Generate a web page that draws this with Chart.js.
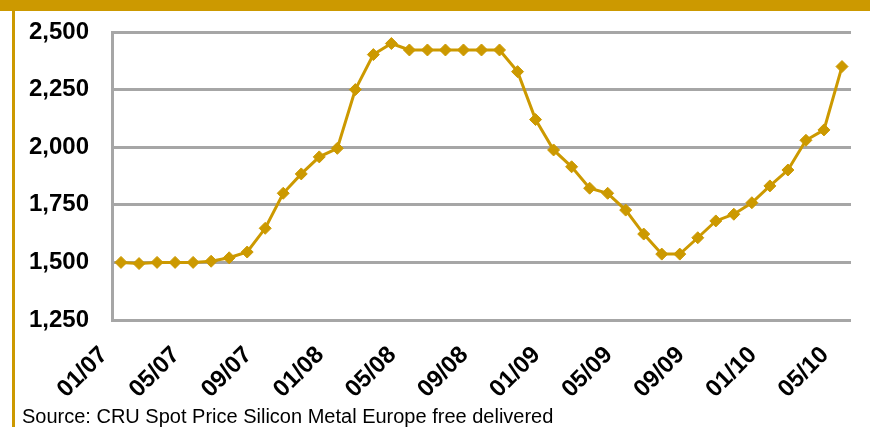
<!DOCTYPE html>
<html>
<head>
<meta charset="utf-8">
<script src="https://cdn.jsdelivr.net/npm/chart.js@4"></script>
<style>
  html, body { margin: 0; padding: 0; background: #fff; }
  #marco { position: relative; width: 870px; height: 427px; overflow: hidden; background: #fff; }
  #franja { position: absolute; left: 0; top: 0; width: 870px; height: 11px; background: #CC9900; }
  #borde { position: absolute; left: 12px; top: 0; width: 3px; height: 427px; background: #CC9900; }
  #fuente { position: absolute; left: 22px; top: 405px; font: 20px "Liberation Sans", Arial, sans-serif; color: #000; white-space: nowrap; }
  canvas { position: absolute; left: 0; top: 0; }
</style>
</head>
<body>
<div id="marco">
  <div id="franja"></div>
  <div id="borde"></div>
  <canvas id="graficoPrecio" width="870" height="427"></canvas>
  <div id="fuente">Source: CRU Spot Price Silicon Metal Europe free delivered</div>
</div>
<script>
// Meses (mm/aa), enero 2007 a mayo 2010
const meses = [
  '01/07', '02/07', '03/07', '04/07', '05/07', '06/07', '07/07', '08/07', '09/07', '10/07', '11/07', '12/07',
  '01/08', '02/08', '03/08', '04/08', '05/08', '06/08', '07/08', '08/08', '09/08', '10/08', '11/08', '12/08',
  '01/09', '02/09', '03/09', '04/09', '05/09', '06/09', '07/09', '08/09', '09/09', '10/09', '11/09', '12/09',
  '01/10', '02/10', '03/10', '04/10', '05/10'
];

// Precio spot silicio metal
const precios = [
  1500, 1495, 1500, 1500, 1500, 1505, 1520, 1545, 1648, 1800, 1884, 1958,
  1995, 2250, 2402, 2450, 2422, 2422, 2422, 2422, 2422, 2422, 2328, 2120,
  1988, 1915, 1822, 1800, 1727, 1623, 1536, 1536, 1607, 1680, 1709, 1759,
  1832, 1901, 2030, 2075, 2350
];

// Escala del eje Y
const yMin = 1250;
const yMax = 2500;
const yPaso = 250;

const dorado = '#CC9900';
const gris = '#A6A6A6';

const ctx = document.getElementById('graficoPrecio').getContext('2d');
new Chart(ctx, {
  type: 'line',
  data: {
    labels: meses,
    datasets: [{
      label: 'Silicon Metal',
      data: precios,
      borderColor: dorado,
      backgroundColor: dorado,
      borderWidth: 3,
      pointStyle: 'rectRot',
      pointRadius: 6,
      pointBackgroundColor: dorado,
      pointBorderColor: dorado,
      pointBorderWidth: 1,
      tension: 0,
      fill: false
    }]
  },
  options: {
    responsive: false,
    animation: false,
    layout: { padding: { top: 32, right: 19, bottom: 0, left: 0 } },
    plugins: {
      legend: { display: false },
      tooltip: { enabled: false }
    },
    scales: {
      x: {
        offset: true,
        grid: { display: false, drawTicks: false },
        border: { display: false },
        ticks: {
          autoSkip: false,
          maxRotation: 45,
          minRotation: 45,
          padding: 21,
          labelOffset: -17,
          color: '#000',
          font: { family: '"Liberation Sans", Arial, sans-serif', size: 24, weight: 'bold' },
          callback: function(valor, indice) {
            return indice % 4 === 0 ? meses[indice] : '';
          }
        },
        afterFit: function(escala) {
          escala.height = 107;
          escala.paddingLeft = 0;
          escala.paddingRight = 0;
        }
      },
      y: {
        min: yMin,
        max: yMax,
        grid: { color: gris, lineWidth: 3, drawTicks: false },
        border: { display: true, color: gris, width: 3 },
        ticks: {
          stepSize: yPaso,
          padding: 23,
          color: '#000',
          font: { family: '"Liberation Sans", Arial, sans-serif', size: 24, weight: 'bold' },
          callback: function(valor) { return valor.toLocaleString('en-US'); }
        },
        afterFit: function(escala) {
          escala.width = 112;
          escala.paddingTop = 0;
          escala.paddingBottom = 0;
        }
      }
    }
  }
});
</script>
</body>
</html>
